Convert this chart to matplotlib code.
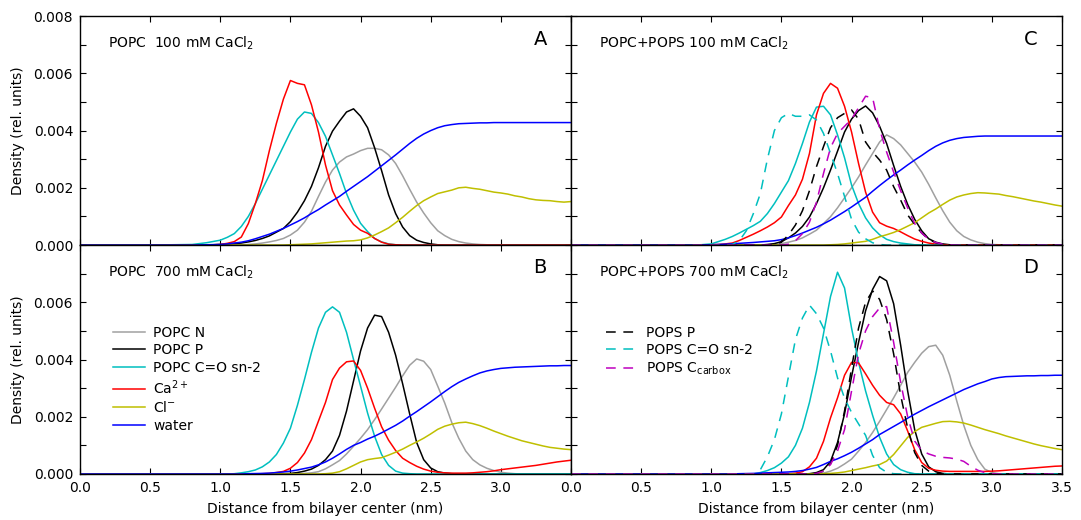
import numpy as np
import matplotlib
matplotlib.use("Agg")
import matplotlib.pyplot as plt
from matplotlib.ticker import MultipleLocator, FormatStrFormatter

plt.rcParams["font.family"] = ["DejaVu Sans"]
plt.rcParams["lines.scale_dashes"] = False

# x grid, nm from bilayer center
dist = np.r_[0.0, 0.5, 0.8, 0.9, np.round(np.arange(1.0, 3.5001, 0.05), 2)]


def curve(start, vals):
    # values (units of 0.001), zero outside the listed range
    y = np.zeros(len(dist))
    i = int(np.argmin(np.abs(dist - start)))
    y[i:i + len(vals)] = vals
    return y * 1e-3


# --- A: POPC 100 mM CaCl2
A_N = curve(1.20, [0.02, 0.04, 0.07, 0.11, 0.16, 0.23, 0.35, 0.52, 0.8, 1.18, 1.7, 2.2, 2.62, 2.9, 3.08, 3.18, 3.3,
                   3.38, 3.38, 3.33, 3.15, 2.85, 2.42, 1.95, 1.5, 1.12, 0.78, 0.5, 0.33, 0.2, 0.12, 0.07, 0.04, 0.02, 0.01])
A_P = curve(1.00, [0.02, 0.03, 0.05, 0.07, 0.11, 0.16, 0.23, 0.32, 0.45, 0.58, 0.82, 1.15, 1.55, 2.05, 2.7, 3.45, 3.98,
                   4.33, 4.65, 4.76, 4.5, 4.1, 3.4, 2.6, 1.75, 1.1, 0.63, 0.33, 0.17, 0.09, 0.04, 0.01])
A_CO = curve(0.80, [0.02, 0.08, 0.17, 0.27, 0.4, 0.65, 1.0, 1.45, 1.95, 2.45, 2.95, 3.45, 3.95, 4.4, 4.65, 4.6, 4.28,
                    3.8, 3.15, 2.5, 1.8, 1.22, 0.76, 0.47, 0.23, 0.11, 0.04, 0.01])
A_Ca = curve(1.00, [0.02, 0.06, 0.12, 0.28, 0.75, 1.45, 2.25, 3.3, 4.25, 5.1, 5.75, 5.65, 5.6, 4.9, 3.95, 2.8, 1.9,
                    1.4, 1.05, 0.72, 0.52, 0.41, 0.23, 0.1, 0.03, 0.01])
A_Cl = curve(1.50, [0.01, 0.02, 0.03, 0.04, 0.06, 0.08, 0.1, 0.12, 0.14, 0.15, 0.18, 0.25, 0.35, 0.47, 0.6, 0.78, 0.97,
                    1.18, 1.38, 1.55, 1.68, 1.8, 1.86, 1.92, 2.0, 2.02, 1.98, 1.95, 1.9, 1.85, 1.82, 1.78, 1.72, 1.68,
                    1.62, 1.58, 1.56, 1.55, 1.52, 1.5, 1.52])
A_W = curve(0.90, [0.01, 0.02, 0.04, 0.07, 0.1, 0.15, 0.22, 0.3, 0.38, 0.48, 0.58, 0.7, 0.82, 0.95, 1.1, 1.24, 1.4,
                   1.55, 1.7, 1.88, 2.05, 2.22, 2.39, 2.58, 2.77, 2.96, 3.15, 3.35, 3.55, 3.73, 3.88, 4.0, 4.1, 4.17,
                   4.21, 4.24, 4.25, 4.26, 4.27, 4.27, 4.28, 4.28, 4.28, 4.28, 4.28, 4.28, 4.28, 4.28, 4.28, 4.28,
                   4.28, 4.28])

# --- B: POPC 700 mM CaCl2
B_N = curve(1.55, [0.01, 0.02, 0.04, 0.08, 0.18, 0.32, 0.47, 0.7, 0.97, 1.25, 1.55, 1.9, 2.27, 2.65, 3.03, 3.43, 3.8,
                   4.02, 3.94, 3.65, 3.07, 2.48, 1.8, 1.25, 0.8, 0.5, 0.32, 0.2, 0.12, 0.06, 0.03, 0.01])
B_P = curve(1.45, [0.01, 0.02, 0.05, 0.1, 0.17, 0.3, 0.5, 0.8, 1.35, 2.2, 3.25, 4.3, 5.1, 5.55, 5.5, 4.95, 4.15, 3.15,
                   2.1, 1.1, 0.5, 0.21, 0.08, 0.03, 0.01])
B_CO = curve(1.10, [0.01, 0.04, 0.08, 0.14, 0.25, 0.42, 0.68, 1.08, 1.6, 2.4, 3.3, 4.25, 5.1, 5.65, 5.84, 5.65, 4.95,
                    4.0, 3.07, 2.13, 1.32, 0.68, 0.3, 0.1, 0.03, 0.01])
B_Ca = curve(1.30, [0.01, 0.02, 0.05, 0.09, 0.2, 0.4, 0.73, 1.2, 1.85, 2.5, 3.3, 3.7, 3.92, 3.95, 3.62, 3.0, 2.3,
                    1.65, 1.18, 0.82, 0.55, 0.4, 0.27, 0.17, 0.1, 0.06, 0.04, 0.03, 0.03, 0.03, 0.04, 0.06, 0.08,
                    0.11, 0.15, 0.18, 0.21, 0.24, 0.27, 0.3, 0.34, 0.38, 0.42, 0.45, 0.48])
B_Cl = curve(1.75, [0.01, 0.03, 0.08, 0.18, 0.3, 0.42, 0.5, 0.54, 0.57, 0.66, 0.76, 0.87, 1.0, 1.12, 1.25, 1.4, 1.56,
                    1.67, 1.74, 1.79, 1.81, 1.76, 1.69, 1.6, 1.5, 1.41, 1.32, 1.24, 1.16, 1.1, 1.04, 0.98, 0.93, 0.9,
                    0.87, 0.85])
B_W = curve(1.20, [0.01, 0.015, 0.02, 0.03, 0.05, 0.07, 0.1, 0.14, 0.19, 0.24, 0.32, 0.42, 0.55, 0.7, 0.86, 1.0, 1.1,
                   1.22, 1.32, 1.44, 1.57, 1.7, 1.85, 2.02, 2.18, 2.35, 2.52, 2.7, 2.88, 3.05, 3.2, 3.32, 3.43, 3.53,
                   3.6, 3.65, 3.69, 3.71, 3.73, 3.74, 3.75, 3.76, 3.77, 3.78, 3.78, 3.79, 3.79])

# --- C: POPC+POPS 100 mM CaCl2
C_N = curve(1.40, [0.01, 0.02, 0.05, 0.1, 0.16, 0.25, 0.38, 0.52, 0.75, 0.99, 1.3, 1.65, 2.0, 2.38, 2.8, 3.2, 3.6,
                   3.85, 3.72, 3.5, 3.2, 2.9, 2.55, 2.12, 1.65, 1.2, 0.8, 0.5, 0.3, 0.18, 0.1, 0.05, 0.02, 0.01])
C_P = curve(1.40, [0.02, 0.05, 0.12, 0.25, 0.42, 0.65, 0.98, 1.45, 2.0, 2.62, 3.28, 3.95, 4.4, 4.7, 4.86, 4.62, 4.15,
                   3.55, 2.78, 2.05, 1.42, 0.9, 0.5, 0.22, 0.1, 0.04, 0.01])
C_CO = curve(0.90, [0.0, 0.04, 0.12, 0.2, 0.3, 0.42, 0.55, 0.68, 0.83, 1.1, 1.45, 1.85, 2.25, 2.85, 3.55, 4.3, 4.82,
                    4.85, 4.55, 3.85, 3.05, 2.1, 1.45, 0.95, 0.6, 0.36, 0.2, 0.12, 0.07, 0.04, 0.01])
C_Ca = curve(1.00, [0.01, 0.02, 0.04, 0.07, 0.16, 0.27, 0.38, 0.5, 0.63, 0.78, 0.98, 1.38, 1.75, 2.3, 3.2, 4.55, 5.3,
                    5.65, 5.48, 4.85, 3.95, 2.85, 1.85, 1.15, 0.78, 0.66, 0.58, 0.46, 0.33, 0.21, 0.13, 0.07, 0.03,
                    0.01])
C_Cl = curve(1.85, [0.01, 0.02, 0.04, 0.07, 0.1, 0.13, 0.2, 0.29, 0.36, 0.44, 0.54, 0.66, 0.78, 0.95, 1.12, 1.26, 1.42,
                    1.57, 1.68, 1.75, 1.8, 1.83, 1.82, 1.8, 1.78, 1.73, 1.69, 1.64, 1.59, 1.54, 1.5, 1.45, 1.4, 1.36])
C_W = curve(1.00, [0.01, 0.02, 0.03, 0.045, 0.06, 0.075, 0.09, 0.11, 0.13, 0.15, 0.19, 0.25, 0.33, 0.42, 0.52, 0.62,
                   0.74, 0.87, 1.02, 1.17, 1.33, 1.5, 1.67, 1.88, 2.08, 2.27, 2.45, 2.62, 2.8, 2.97, 3.13, 3.3, 3.45,
                   3.57, 3.66, 3.72, 3.76, 3.78, 3.8, 3.81, 3.81, 3.81, 3.81, 3.81, 3.81, 3.81, 3.81, 3.81, 3.81,
                   3.81, 3.81])
C_PS_P = curve(1.45, [0.02, 0.1, 0.35, 0.7, 1.2, 1.9, 2.74, 3.44, 4.1, 4.45, 4.6, 4.72, 4.4, 3.6, 3.25, 2.97, 2.62,
                      2.04, 1.57, 1.05, 0.72, 0.42, 0.2, 0.08, 0.02])
C_PS_CO = curve(1.15, [0.02, 0.15, 0.5, 1.1, 1.8, 3.0, 4.0, 4.45, 4.6, 4.5, 4.5, 4.55, 4.37, 3.9, 3.2, 2.5, 1.7, 0.9,
                       0.45, 0.22, 0.08, 0.02])
C_PS_COO = curve(1.55, [0.03, 0.15, 0.4, 0.8, 1.5, 2.5, 3.4, 3.9, 4.15, 4.4, 4.8, 5.2, 5.15, 4.05, 3.25, 2.55, 1.9,
                        1.3, 0.75, 0.42, 0.2, 0.09, 0.03, 0.01])

# --- D: POPC+POPS 700 mM CaCl2
D_N = curve(1.75, [0.01, 0.03, 0.1, 0.2, 0.35, 0.52, 0.8, 1.1, 1.45, 1.84, 2.25, 2.66, 3.1, 3.55, 3.9, 4.22, 4.45,
                   4.5, 4.15, 3.45, 2.55, 1.7, 1.0, 0.5, 0.17, 0.05, 0.01])
D_P = curve(1.70, [0.01, 0.05, 0.15, 0.44, 1.1, 2.1, 3.4, 4.6, 5.7, 6.45, 6.9, 6.75, 5.95, 4.5, 2.9, 1.55, 0.7, 0.25,
                   0.08, 0.02])
D_CO = curve(1.30, [0.0, 0.05, 0.12, 0.22, 0.38, 0.6, 1.0, 1.6, 2.5, 3.6, 4.9, 6.2, 7.05, 6.5, 5.1, 3.9, 2.9, 2.05,
                    1.28, 0.7, 0.33, 0.15, 0.06, 0.01])
D_Ca = curve(1.55, [0.01, 0.03, 0.08, 0.25, 0.55, 1.14, 1.96, 2.66, 3.45, 3.9, 3.88, 3.5, 3.1, 2.75, 2.5, 2.42, 2.1,
                    1.5, 0.85, 0.4, 0.2, 0.13, 0.1, 0.09, 0.09, 0.09, 0.09, 0.09, 0.09, 0.1, 0.11, 0.13, 0.15, 0.17,
                    0.19, 0.21, 0.23, 0.25, 0.27, 0.28])
D_Cl = curve(1.80, [0.01, 0.02, 0.04, 0.07, 0.12, 0.17, 0.22, 0.28, 0.33, 0.45, 0.68, 0.98, 1.28, 1.48, 1.63, 1.7,
                    1.77, 1.83, 1.84, 1.82, 1.78, 1.71, 1.63, 1.55, 1.48, 1.41, 1.33, 1.26, 1.19, 1.12, 1.05, 0.99,
                    0.94, 0.89, 0.85])
D_W = curve(1.20, [0.01, 0.015, 0.02, 0.03, 0.04, 0.05, 0.06, 0.07, 0.09, 0.12, 0.17, 0.23, 0.33, 0.44, 0.53, 0.64,
                   0.76, 0.9, 1.05, 1.2, 1.38, 1.52, 1.66, 1.8, 1.95, 2.09, 2.22, 2.35, 2.47, 2.59, 2.71, 2.83, 2.95,
                   3.05, 3.15, 3.23, 3.32, 3.37, 3.4, 3.41, 3.42, 3.43, 3.43, 3.44, 3.44, 3.45, 3.45])
D_PS_P = curve(1.75, [0.02, 0.1, 0.35, 1.0, 2.2, 3.7, 5.1, 6.0, 6.4, 6.1, 5.4, 4.2, 2.75, 1.6, 0.75, 0.3, 0.1, 0.03])
D_PS_CO = curve(1.30, [0.0, 0.15, 0.6, 1.2, 2.1, 3.4, 4.7, 5.45, 5.9, 5.6, 5.1, 4.3, 3.36, 2.65, 2.15, 1.75, 1.35,
                       0.65, 0.22, 0.06, 0.01])
D_PS_COO = curve(1.75, [0.02, 0.1, 0.33, 0.8, 1.55, 2.9, 4.2, 5.0, 5.5, 5.8, 5.85, 4.6, 3.2, 2.0, 1.15, 0.82, 0.7,
                        0.62, 0.58, 0.56, 0.52, 0.44, 0.27, 0.13, 0.05, 0.01])

popc_labels = ["POPC N", "POPC P", "POPC C=O sn-2", "Ca$^{2+}$", "Cl$^{-}$", "water"]
popc_colors = ["#a0a0a0", "k", "c", "r", "y", "b"]
pops_labels = ["POPS P", "POPS C=O sn-2", "POPS C$_{\\mathrm{carbox}}$"]
pops_colors = ["k", "c", "m"]

panel_titles = ["POPC  100 mM CaCl$_2$", "POPC+POPS 100 mM CaCl$_2$",
                "POPC  700 mM CaCl$_2$", "POPC+POPS 700 mM CaCl$_2$"]
panel_letters = ["A", "C", "B", "D"]

popc_sets = [[A_N, A_P, A_CO, A_Ca, A_Cl, A_W], [C_N, C_P, C_CO, C_Ca, C_Cl, C_W],
             [B_N, B_P, B_CO, B_Ca, B_Cl, B_W], [D_N, D_P, D_CO, D_Ca, D_Cl, D_W]]
pops_sets = [None, [C_PS_P, C_PS_CO, C_PS_COO], None, [D_PS_P, D_PS_CO, D_PS_COO]]

fig = plt.figure(figsize=(10.81, 5.2), dpi=100)
axs = fig.subplots(2, 2)
fig.subplots_adjust(left=0.074, right=0.9824, top=0.969, bottom=0.0885, hspace=0, wspace=0)

for k, ax in enumerate(axs.flat):
    for y, c, lab in zip(popc_sets[k], popc_colors, popc_labels):
        ax.plot(dist, y, color=c, lw=1.1, label=lab)
    if pops_sets[k] is not None:
        for y, c, lab in zip(pops_sets[k], pops_colors, pops_labels):
            ax.plot(dist, y, color=c, lw=1.1, ls="--", dashes=(7, 5.5), label=lab)

    ax.set_xlim(0, 3.5)
    ax.set_ylim(0, 0.008)
    ax.xaxis.set_major_locator(MultipleLocator(0.5))
    ax.yaxis.set_major_locator(MultipleLocator(0.002))
    ax.yaxis.set_minor_locator(MultipleLocator(0.001))
    ax.yaxis.set_major_formatter(FormatStrFormatter("%.3f"))
    ax.xaxis.set_major_formatter(FormatStrFormatter("%.1f"))
    ax.tick_params(which="both", direction="in", top=True, right=True, length=4, width=0.8,
                   labelsize=10, pad=5)
    for s in ax.spines.values():
        s.set_linewidth(1.0)

    ax.text(0.057, 0.88, panel_titles[k], transform=ax.transAxes, fontsize=10, va="center", ha="left")
    ax.text(0.937, 0.9, panel_letters[k], transform=ax.transAxes, fontsize=14, va="center", ha="center")

# labels only where the original shows them
for ax in axs[0]:
    ax.tick_params(labelbottom=False)
for ax in axs[:, 1]:
    ax.tick_params(labelleft=False)

xt = [0.0, 0.5, 1.0, 1.5, 2.0, 2.5, 3.0, 3.5]
axs[1, 0].set_xticks(xt)
axs[1, 0].set_xticklabels(["%.1f" % v for v in xt[:-1]] + [""])
yt = [0.0, 0.002, 0.004, 0.006, 0.008]
axs[1, 0].set_yticks(yt)
axs[1, 0].set_yticklabels(["%.3f" % v for v in yt[:-1]] + [""])

for ax in axs[:, 0]:
    ax.set_ylabel("Density (rel. units)", fontsize=10, labelpad=6)
for ax in axs[1]:
    ax.set_xlabel("Distance from bilayer center (nm)", fontsize=10, labelpad=5)

h, l = axs[1, 0].get_legend_handles_labels()
axs[1, 0].legend(h, l, loc="upper left", bbox_to_anchor=(0.067, 0.648), frameon=False, fontsize=10,
                 handlelength=2.3, handletextpad=0.6, labelspacing=0.25, borderpad=0, borderaxespad=0)
h, l = axs[1, 1].get_legend_handles_labels()
axs[1, 1].legend(h[6:], l[6:], loc="upper left", bbox_to_anchor=(0.071, 0.648), frameon=False, fontsize=10,
                 handlelength=2.0, handletextpad=0.9, labelspacing=0.25, borderpad=0, borderaxespad=0)

fig.savefig("out.png", dpi=100)
